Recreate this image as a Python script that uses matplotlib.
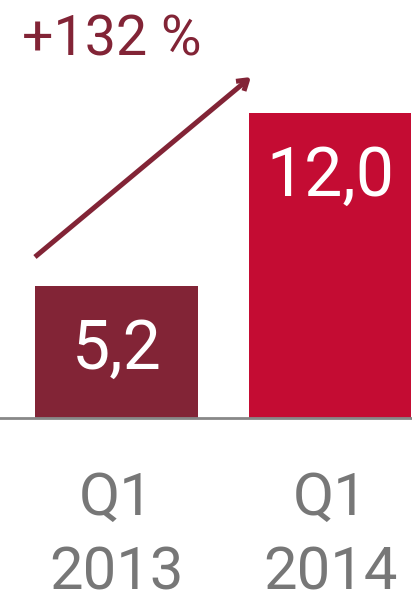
import matplotlib.pyplot as plt

periods = ['Q1\n2013', 'Q1\n2014']
values = [5.2, 12.0]
value_labels = ['5,2', '12,0']
growth_label = '+132 %'
colors = ['#822436', '#C40C33']

plt.rcParams['font.family'] = ['Roboto', 'DejaVu Sans']

fig = plt.figure(figsize=(4.12, 5.95), dpi=100)
ax = fig.add_axes([0, 0.2975, 1, 0.7025])

x = range(len(values))
bars = ax.bar(x, values, width=0.763, color=colors)
ax.set_xlim(-0.5457, 1.384)
ax.set_ylim(0, 16.46)
ax.axis('off')
ax.axhline(0, color='#888888', lw=2, clip_on=False)

for b, lab in zip(bars, value_labels):
    ax.text(b.get_x() + b.get_width() / 2, b.get_height() - 3.27, lab,
            ha='center', va='baseline', color='white', fontsize=49)

# two-line category labels under the baseline
for xi, p in zip(x, periods):
    top, bottom = p.split('\n')
    ax.text(xi, -3.82, top, ha='center', va='baseline', color='#777777', fontsize=43)
    ax.text(xi, -6.77, bottom, ha='center', va='baseline', color='#777777', fontsize=43)

# arrow from left bar to right bar
ax.annotate('', xy=(0.630, 13.43), xytext=(-0.382, 6.34),
            arrowprops=dict(arrowstyle='->,head_length=0.7,head_width=0.45',
                            color='#822436', lw=3.6, shrinkA=0, shrinkB=0,
                            capstyle='butt'))
fig.text(22 / 412, 1 - 56 / 595, growth_label, color='#822436',
         fontsize=40, ha='left', va='baseline')

fig.savefig('out.png', dpi=100)
